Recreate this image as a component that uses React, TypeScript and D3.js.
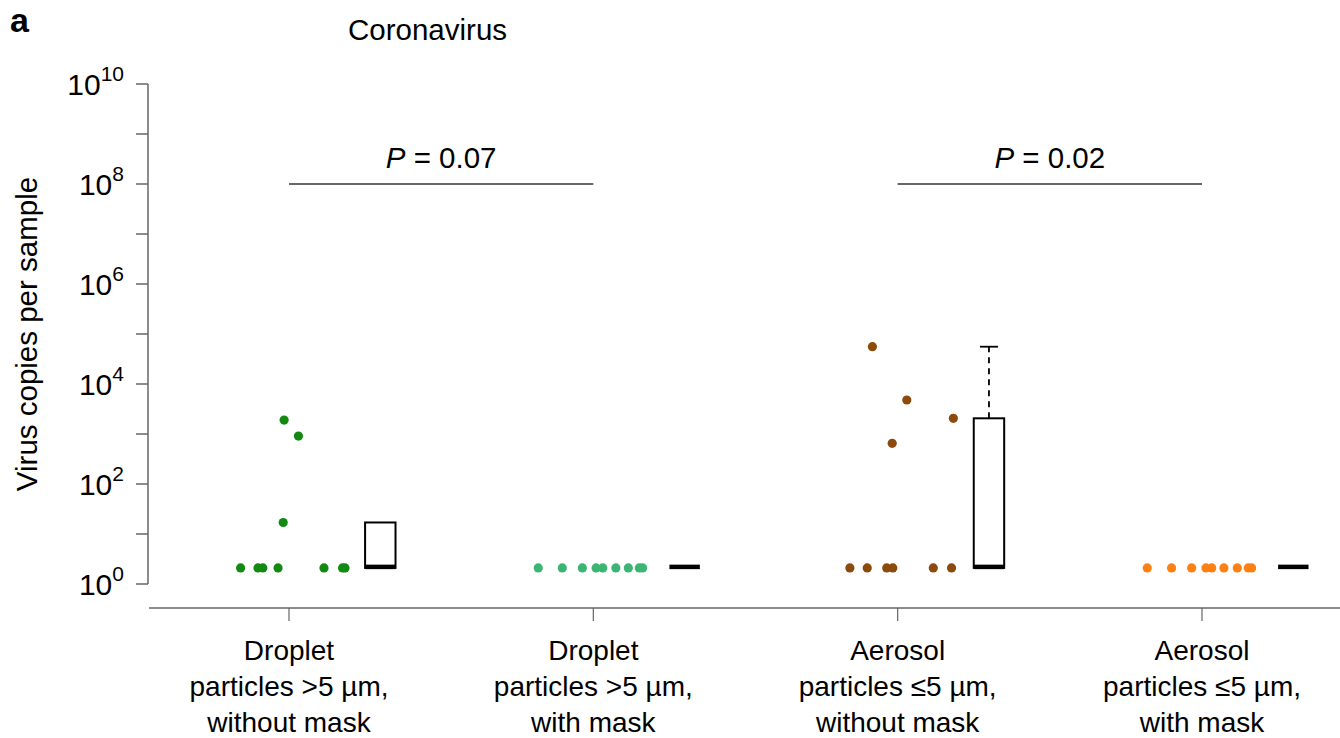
import React, { useEffect, useRef } from 'react';
import * as d3 from 'd3';

// categories (one per x position)
const groupLabels = [
    ['Droplet', 'particles >5 µm,', 'without mask'],
    ['Droplet', 'particles >5 µm,', 'with mask'],
    ['Aerosol', 'particles ≤5 µm,', 'without mask'],
    ['Aerosol', 'particles ≤5 µm,', 'with mask'],
];
const groupColors = ['#128a12', '#3cb474', '#8c4a0c', '#ff8012'];

// virus copies per sample, one array per group, with horizontal jitter (in group units)
const dropletNoMask = [2.1, 2.1, 2.1, 2.1, 2.1, 2.1, 2.1, 1900, 910, 17];
const dropletNoMaskJitter = [-0.159, -0.102, -0.086, -0.036, 0.115, 0.176, 0.184, -0.016, 0.031, -0.019];
const dropletMask = [2.1, 2.1, 2.1, 2.1, 2.1, 2.1, 2.1, 2.1, 2.1];
const dropletMaskJitter = [-0.181, -0.102, -0.036, 0.009, 0.031, 0.074, 0.115, 0.151, 0.162];
const aerosolNoMask = [2.1, 2.1, 2.1, 2.1, 2.1, 2.1, 55700, 4790, 2060, 650];
const aerosolNoMaskJitter = [-0.157, -0.1, -0.036, -0.016, 0.117, 0.177, -0.083, 0.03, 0.183, -0.018];
const aerosolMask = [2.1, 2.1, 2.1, 2.1, 2.1, 2.1, 2.1, 2.1, 2.1];
const aerosolMaskJitter = [-0.18, -0.1, -0.034, 0.013, 0.032, 0.072, 0.116, 0.152, 0.163];

// box summaries
const boxMedian = [2.1, 2.1, 2.1, 2.1];
const boxQ3 = [17, 2.1, 2060, 2.1];
const boxWhiskerHigh = [17, 2.1, 55700, 2.1];

// p-value brackets
const pPairs = [[0, 1], [2, 3]];
const pValues = ['0.07', '0.02'];

const yTickExponents = [0, 1, 2, 3, 4, 5, 6, 7, 8, 9, 10];

const FONT = '"Liberation Sans", Arial, Helvetica, sans-serif';

const App = () => {
    const chartRef = useRef<SVGSVGElement | null>(null);

    useEffect(() => {
        drawChart();
    }, []);

    const drawChart = () => {
        const svg = d3.select(chartRef.current);
        svg.selectAll('*').remove();

        const width = 1340;
        const height = 738;
        svg.append('rect').attr('width', width).attr('height', height).attr('fill', '#fff');

        const x = d3.scaleLinear().domain([0, 3]).range([289, 1202]);
        const y = d3.scaleLog().domain([1, 1e10]).range([584, 84]);
        const axisColor = '#666';

        // y axis
        const yAxis = svg.append('g');
        yAxis.append('line')
            .attr('x1', 148).attr('x2', 148)
            .attr('y1', y(1)).attr('y2', y(1e10))
            .attr('stroke', axisColor).attr('stroke-width', 1.5);
        yAxis.selectAll('.ytick')
            .data(yTickExponents)
            .enter().append('line')
            .attr('x1', 136).attr('x2', 148)
            .attr('y1', d => y(Math.pow(10, d)))
            .attr('y2', d => y(Math.pow(10, d)))
            .attr('stroke', axisColor).attr('stroke-width', 1.5);
        const labels = yAxis.selectAll('.ylab')
            .data(yTickExponents.filter(d => d % 2 === 0))
            .enter().append('text')
            .attr('x', 124)
            .attr('y', d => y(Math.pow(10, d)) + 11)
            .attr('text-anchor', 'end')
            .style('font-family', FONT)
            .style('font-size', '30px');
        labels.append('tspan').text('10');
        labels.append('tspan')
            .attr('dy', -14)
            .style('font-size', '21px')
            .text(d => String(d));

        svg.append('text')
            .attr('transform', `translate(37,${(y(1) + y(1e10)) / 2}) rotate(-90)`)
            .attr('text-anchor', 'middle')
            .style('font-family', FONT)
            .style('font-size', '29.5px')
            .text('Virus copies per sample');

        // x axis
        const xAxis = svg.append('g');
        xAxis.append('line')
            .attr('x1', 149).attr('x2', width)
            .attr('y1', 608).attr('y2', 608)
            .attr('stroke', axisColor).attr('stroke-width', 1.5);
        xAxis.selectAll('.xtick')
            .data(groupLabels)
            .enter().append('line')
            .attr('x1', (d, i) => x(i)).attr('x2', (d, i) => x(i))
            .attr('y1', 608).attr('y2', 621)
            .attr('stroke', axisColor).attr('stroke-width', 1.2);
        const xl = xAxis.selectAll('.xlab')
            .data(groupLabels)
            .enter().append('text')
            .attr('text-anchor', 'middle')
            .style('font-family', FONT)
            .style('font-size', '28px');
        xl.selectAll('tspan')
            .data((d, i) => d.map(s => ({ s, i })))
            .enter().append('tspan')
            .attr('x', d => x(d.i))
            .attr('y', (d, j) => 660 + j * 36)
            .text(d => d.s);

        // points
        const series = [
            [dropletNoMask, dropletNoMaskJitter],
            [dropletMask, dropletMaskJitter],
            [aerosolNoMask, aerosolNoMaskJitter],
            [aerosolMask, aerosolMaskJitter],
        ];
        series.forEach(([vals, jit], gi) => {
            svg.append('g').selectAll('circle')
                .data(vals)
                .enter().append('circle')
                .attr('cx', (d, k) => x(gi + jit[k]))
                .attr('cy', d => y(d))
                .attr('r', 4.6)
                .attr('fill', groupColors[gi]);
        });

        // boxes
        const boxOffset = 0.3;
        const boxHalf = 0.05;
        groupLabels.forEach((g, gi) => {
            const cx = x(gi + boxOffset);
            const x0 = x(gi + boxOffset - boxHalf);
            const x1 = x(gi + boxOffset + boxHalf);
            const bg = svg.append('g');
            if (boxWhiskerHigh[gi] > boxQ3[gi]) {
                bg.append('line')
                    .attr('x1', cx).attr('x2', cx)
                    .attr('y1', y(boxQ3[gi])).attr('y2', y(boxWhiskerHigh[gi]))
                    .attr('stroke', '#000').attr('stroke-width', 1.8)
                    .attr('stroke-dasharray', '6,5');
                bg.append('line')
                    .attr('x1', cx - 9).attr('x2', cx + 9)
                    .attr('y1', y(boxWhiskerHigh[gi])).attr('y2', y(boxWhiskerHigh[gi]))
                    .attr('stroke', '#000').attr('stroke-width', 1.8);
            }
            if (boxQ3[gi] > boxMedian[gi]) {
                bg.append('rect')
                    .attr('x', x0).attr('width', x1 - x0)
                    .attr('y', y(boxQ3[gi])).attr('height', y(boxMedian[gi]) - y(boxQ3[gi]))
                    .attr('fill', '#fff').attr('stroke', '#000').attr('stroke-width', 2);
            }
            bg.append('line')
                .attr('x1', x0).attr('x2', x1)
                .attr('y1', y(boxMedian[gi]) - 1).attr('y2', y(boxMedian[gi]) - 1)
                .attr('stroke', '#000').attr('stroke-width', 4.5);
        });

        // p-value brackets
        pPairs.forEach(([a, b], i) => {
            svg.append('line')
                .attr('x1', x(a)).attr('x2', x(b))
                .attr('y1', y(1e8)).attr('y2', y(1e8))
                .attr('stroke', '#333').attr('stroke-width', 1.6);
            const t = svg.append('text')
                .attr('x', (x(a) + x(b)) / 2)
                .attr('y', y(1e8) - 16)
                .attr('text-anchor', 'middle')
                .style('font-family', FONT)
                .style('font-size', '29.5px');
            t.append('tspan').style('font-style', 'italic').text('P');
            t.append('tspan').text(` = ${pValues[i]}`);
        });

        // titles
        svg.append('text')
            .attr('x', 10).attr('y', 32)
            .style('font-family', FONT)
            .style('font-size', '34px')
            .style('font-weight', 'bold')
            .text('a');
        svg.append('text')
            .attr('x', 348).attr('y', 40)
            .style('font-family', FONT)
            .style('font-size', '29.5px')
            .text('Coronavirus');
    };

    return (
        <svg ref={chartRef} width={1340} height={738}
            style={{ position: 'absolute', left: 0, top: 0, display: 'block' }} />
    );
};

export default App;
